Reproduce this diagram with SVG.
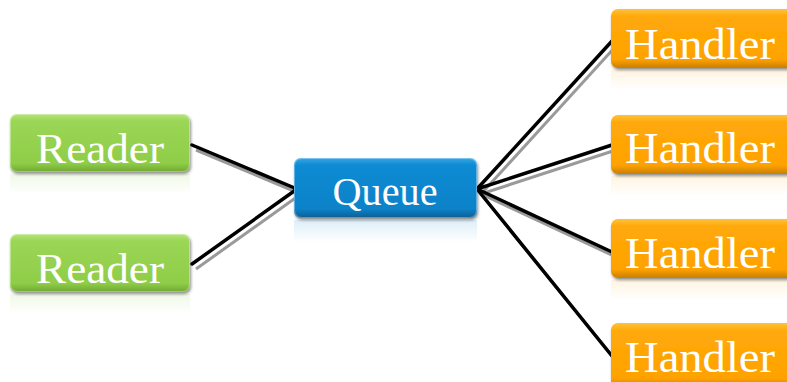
<svg xmlns="http://www.w3.org/2000/svg" width="787" height="382" viewBox="0 0 787 382">
<defs>
<linearGradient id="gG" x1="0" y1="0" x2="0" y2="1">
<stop offset="0" stop-color="#b4e47a"/><stop offset="0.12" stop-color="#9bd656"/><stop offset="0.85" stop-color="#8fcd48"/><stop offset="1" stop-color="#6fa832"/>
</linearGradient>
<linearGradient id="gB" x1="0" y1="0" x2="0" y2="1">
<stop offset="0" stop-color="#3aa6e4"/><stop offset="0.12" stop-color="#0d8bd3"/><stop offset="0.85" stop-color="#0a82c8"/><stop offset="1" stop-color="#075d92"/>
</linearGradient>
<linearGradient id="gO" x1="0" y1="0" x2="0" y2="1">
<stop offset="0" stop-color="#ffc23a"/><stop offset="0.12" stop-color="#ffa90a"/><stop offset="0.85" stop-color="#ffa200"/><stop offset="1" stop-color="#c97f00"/>
</linearGradient>
<linearGradient id="rG" x1="0" y1="0" x2="0" y2="1">
<stop offset="0" stop-color="#92d050" stop-opacity="0.14"/><stop offset="1" stop-color="#92d050" stop-opacity="0"/>
</linearGradient>
<linearGradient id="rB" x1="0" y1="0" x2="0" y2="1">
<stop offset="0" stop-color="#0a86cd" stop-opacity="0.14"/><stop offset="1" stop-color="#0a86cd" stop-opacity="0"/>
</linearGradient>
<linearGradient id="rO" x1="0" y1="0" x2="0" y2="1">
<stop offset="0" stop-color="#ffa500" stop-opacity="0.12"/><stop offset="1" stop-color="#ffa500" stop-opacity="0"/>
</linearGradient>
<filter id="sh" x="-10%" y="-20%" width="120%" height="150%">
<feGaussianBlur in="SourceAlpha" stdDeviation="1.5"/>
<feOffset dx="1" dy="2" result="b"/>
<feComponentTransfer><feFuncA type="linear" slope="0.45"/></feComponentTransfer>
<feMerge><feMergeNode/><feMergeNode in="SourceGraphic"/></feMerge>
</filter>
</defs>
<style>
.t{font-family:"Liberation Serif","DejaVu Serif",serif;fill:#ffffff;}
.ln{stroke:#000;stroke-width:3.5;fill:none;stroke-linecap:round;}
.lsh{stroke:#9a9a9a;stroke-width:3;fill:none;}
.edge{fill:none;stroke:#ffffff;stroke-opacity:0.35;stroke-width:1;}
</style>

<g id="connectors">
<g transform="translate(4,5)">
<line class="lsh" x1="192" y1="145" x2="297" y2="189"/>
<line class="lsh" x1="192" y1="264" x2="297" y2="189"/>
<line class="lsh" x1="477" y1="189" x2="612" y2="41"/>
<line class="lsh" x1="477" y1="189" x2="612" y2="145"/>
<line class="lsh" x1="477" y1="189" x2="612" y2="252"/>
<line class="lsh" x1="477" y1="189" x2="612" y2="356"/>
</g>
<line class="ln" x1="192" y1="145" x2="297" y2="189"/>
<line class="ln" x1="192" y1="264" x2="297" y2="189"/>
<line class="ln" x1="477" y1="189" x2="612" y2="41"/>
<line class="ln" x1="477" y1="189" x2="612" y2="145"/>
<line class="ln" x1="477" y1="189" x2="612" y2="252"/>
<line class="ln" x1="477" y1="189" x2="612" y2="356"/>
</g>

<g id="reader1">
<rect x="10" y="174" width="180" height="20" fill="url(#rG)"/>
<rect x="10" y="114" width="180" height="58" rx="7" fill="url(#gG)" filter="url(#sh)"/>
<rect x="10.5" y="114.5" width="179" height="57" rx="7" class="edge"/>
<text class="t" x="100" y="163" font-size="42" text-anchor="middle" textLength="128" lengthAdjust="spacingAndGlyphs">Reader</text>
</g>

<g id="reader2">
<rect x="10" y="294" width="180" height="20" fill="url(#rG)"/>
<rect x="10" y="234" width="180" height="58" rx="7" fill="url(#gG)" filter="url(#sh)"/>
<rect x="10.5" y="234.5" width="179" height="57" rx="7" class="edge"/>
<text class="t" x="100" y="283" font-size="42" text-anchor="middle" textLength="128" lengthAdjust="spacingAndGlyphs">Reader</text>
</g>

<g id="queue">
<rect x="294" y="220" width="183" height="22" fill="url(#rB)"/>
<rect x="294" y="158" width="183" height="60" rx="7" fill="url(#gB)" filter="url(#sh)"/>
<rect x="294.5" y="158.5" width="182" height="59" rx="7" class="edge"/>
<text class="t" x="385" y="205" font-size="41" text-anchor="middle" textLength="105" lengthAdjust="spacingAndGlyphs">Queue</text>
</g>

<g id="handler1">
<rect x="611" y="70" width="190" height="20" fill="url(#rO)"/>
<rect x="611" y="9" width="190" height="59" rx="7" fill="url(#gO)" filter="url(#sh)"/>
<text class="t" x="625" y="59" font-size="45" textLength="150" lengthAdjust="spacingAndGlyphs">Handler</text>
</g>

<g id="handler2">
<rect x="611" y="176" width="190" height="20" fill="url(#rO)"/>
<rect x="611" y="115" width="190" height="59" rx="7" fill="url(#gO)" filter="url(#sh)"/>
<text class="t" x="625" y="163" font-size="45" textLength="150" lengthAdjust="spacingAndGlyphs">Handler</text>
</g>

<g id="handler3">
<rect x="611" y="280" width="190" height="20" fill="url(#rO)"/>
<rect x="611" y="219" width="190" height="59" rx="7" fill="url(#gO)" filter="url(#sh)"/>
<text class="t" x="625" y="268" font-size="45" textLength="150" lengthAdjust="spacingAndGlyphs">Handler</text>
</g>

<g id="handler4">
<rect x="611" y="323" width="190" height="65" rx="7" fill="url(#gO)" filter="url(#sh)"/>
<text class="t" x="625" y="372" font-size="45" textLength="150" lengthAdjust="spacingAndGlyphs">Handler</text>
</g>
</svg>
